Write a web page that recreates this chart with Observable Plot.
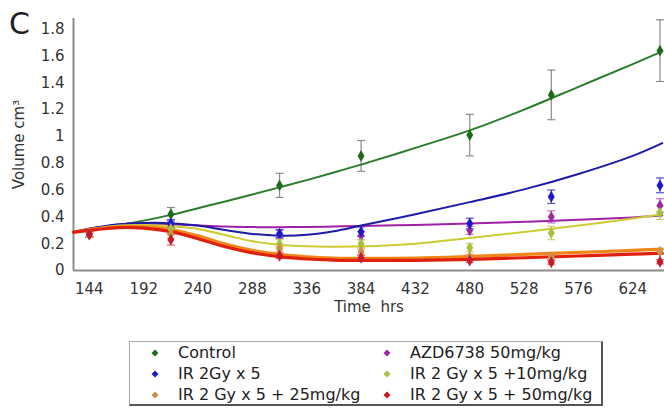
<!DOCTYPE html>
<html><head><meta charset="utf-8">
<script src="https://cdn.jsdelivr.net/npm/d3@7"></script>
<script src="https://cdn.jsdelivr.net/npm/@observablehq/plot@0.6"></script>
<style>
body{margin:0;background:#fff;font-family:"DejaVu Sans",Verdana,sans-serif;}
#wrap{position:relative;width:664px;height:408px;overflow:hidden;background:#fff;}
#panel{position:absolute;left:9px;top:9px;font-size:30px;line-height:30px;color:#222;}
#legend{position:absolute;left:129px;top:341px;width:471px;height:62px;border:1px solid #aaa;border-right:2px solid #555;border-bottom:2px solid #555;box-sizing:content-box;}
.item{position:absolute;font-size:16px;line-height:18px;color:#222;white-space:pre;}
.mk{position:absolute;}
</style></head><body>
<div id="wrap"><div id="chart"></div><div id="panel">C</div><div id="legend"></div></div>
<script>
// ---- data ----
const seriesNames = ["Control", "AZD6738 50mg/kg", "IR 2Gy x 5", "IR 2 Gy x 5 +10mg/kg", "IR 2 Gy x 5 + 25mg/kg", "IR 2 Gy x 5 + 50mg/kg"];
const lineColors   = ["#2b7d2b", "#a020a8", "#1c1ca8", "#cccc30", "#f0861a", "#e0200c"];
const markerColors = ["#1e6b1e", "#9a2aa0", "#1a1acc", "#a8c040", "#c89048", "#c8182e"];
const barColors    = ["#8a8a8a", "#c070c8", "#5050d0", "#d0d070", "#e0b080", "#e06060"];
const lineWidths   = [2, 2, 2, 2, 3.2, 3.2];

// measured time points (hrs)
const times = [144, 216, 312, 384, 480, 552, 648];
const meanControl = [0.27, 0.42, 0.635, 0.855, 1.01, 1.31, 1.64];
const errControl  = [0.02, 0.05, 0.09, 0.115, 0.155, 0.185, 0.23];
const meanAZD     = [0.27, 0.34, 0.27, 0.26, 0.30, 0.40, 0.485];
const errAZD      = [0.02, 0.03, 0.03, 0.03, 0.03, 0.045, 0.05];
const meanIR      = [0.27, 0.35, 0.275, 0.29, 0.35, 0.55, 0.635];
const errIR       = [0.02, 0.03, 0.03, 0.035, 0.04, 0.05, 0.055];
const meanIR10    = [0.27, 0.31, 0.20, 0.20, 0.17, 0.28, 0.43];
const errIR10     = [0.02, 0.03, 0.03, 0.03, 0.03, 0.05, 0.05];
const meanIR25    = [0.27, 0.27, 0.16, 0.14, 0.10, 0.10, 0.14];
const errIR25     = [0.02, 0.03, 0.02, 0.02, 0.02, 0.02, 0.02];
const meanIR50    = [0.27, 0.23, 0.11, 0.095, 0.075, 0.062, 0.065];
const errIR50     = [0.02, 0.04, 0.02, 0.02, 0.015, 0.015, 0.015];

// fitted curves
const curveTimes = [130, 150, 170, 192, 216, 240, 264, 288, 312, 336, 360, 384, 432, 480, 528, 576, 624, 650];
const fitControl = [0.286, 0.31, 0.34, 0.372, 0.415, 0.465, 0.515, 0.567, 0.62, 0.674, 0.731, 0.79, 0.915, 1.045, 1.2, 1.37, 1.54, 1.635];
const fitAZD     = [0.286, 0.32, 0.343, 0.35, 0.345, 0.336, 0.328, 0.324, 0.323, 0.325, 0.328, 0.332, 0.34, 0.35, 0.363, 0.378, 0.396, 0.41];
const fitIR      = [0.286, 0.32, 0.345, 0.355, 0.353, 0.335, 0.302, 0.273, 0.26, 0.266, 0.293, 0.335, 0.42, 0.51, 0.605, 0.72, 0.855, 0.95];
const fitIR10    = [0.286, 0.315, 0.335, 0.34, 0.33, 0.31, 0.265, 0.218, 0.192, 0.18, 0.178, 0.18, 0.20, 0.243, 0.288, 0.335, 0.388, 0.42];
const fitIR25    = [0.286, 0.31, 0.325, 0.325, 0.305, 0.258, 0.197, 0.15, 0.12, 0.102, 0.093, 0.09, 0.093, 0.105, 0.12, 0.135, 0.15, 0.16];
const fitIR50    = [0.286, 0.305, 0.32, 0.316, 0.29, 0.237, 0.177, 0.132, 0.103, 0.086, 0.078, 0.075, 0.076, 0.083, 0.095, 0.108, 0.122, 0.13];

const xTicks = [144, 192, 240, 288, 336, 384, 432, 480, 528, 576, 624];
const yTicks = [0, 0.2, 0.4, 0.6, 0.8, 1, 1.2, 1.4, 1.6, 1.8];
const yTickLabels = ["0", "0.2", "0.4", "0.6", "0.8", "1", "1.2", "1.4", "1.6", "1.8"];
const xLabel = "Time\u00a0\u00a0hrs";
const yLabel = "Volume cm³";
// legend layout order (rows of two)
const legendOrder = [0, 1, 2, 3, 4, 5];

// ---- build tables ----
const means = [meanControl, meanAZD, meanIR, meanIR10, meanIR25, meanIR50];
const errs  = [errControl, errAZD, errIR, errIR10, errIR25, errIR50];
const fits  = [fitControl, fitAZD, fitIR, fitIR10, fitIR25, fitIR50];

const points = [];
means.forEach((m, s) => m.forEach((v, i) => points.push({s, t: times[i], v, lo: v - errs[s][i], hi: v + errs[s][i]})));
const curves = [];
fits.forEach((f, s) => f.forEach((v, i) => curves.push({s, t: curveTimes[i], v})));

const capSymbol = {draw(ctx, size) { const r = Math.sqrt(size / Math.PI); ctx.moveTo(-r, 0); ctx.lineTo(r, 0); }};

const marks = [];
// axis lines
marks.push(Plot.ruleY([0], {stroke: "#8c8c8c", strokeWidth: 2}));
marks.push(Plot.ruleX([130], {stroke: "#8c8c8c", strokeWidth: 2}));
const drawOrder = [0, 1, 2, 3, 4, 5];
// error bars
drawOrder.forEach(s => {
  const d = points.filter(p => p.s === s);
  marks.push(Plot.ruleX(d, {x: "t", y1: "lo", y2: "hi", stroke: barColors[s], strokeWidth: 1.2}));
  marks.push(Plot.dot(d, {x: "t", y: "lo", symbol: capSymbol, r: 4, stroke: barColors[s], strokeWidth: 1.2, fill: "none"}));
  marks.push(Plot.dot(d, {x: "t", y: "hi", symbol: capSymbol, r: 4, stroke: barColors[s], strokeWidth: 1.2, fill: "none"}));
});
// fitted lines
drawOrder.forEach(s => {
  marks.push(Plot.line(curves.filter(c => c.s === s), {x: "t", y: "v", stroke: lineColors[s], strokeWidth: lineWidths[s], curve: "catmull-rom"}));
});
// markers
drawOrder.forEach(s => {
  marks.push(Plot.dot(points.filter(p => p.s === s), {x: "t", y: "v", symbol: "diamond", r: 3.6, fill: markerColors[s], stroke: "none"}));
});
// axis titles
marks.push(Plot.text([xLabel], {frameAnchor: "bottom", dy: 41, fontSize: 15, fill: "#333"}));
marks.push(Plot.text([yLabel], {frameAnchor: "left", textAnchor: "middle", dx: -54, rotate: -90, fontSize: 15, fill: "#333"}));

const chart = Plot.plot({
  width: 664,
  height: 322,
  marginLeft: 73,
  marginRight: 0,
  marginTop: 18,
  marginBottom: 52,
  style: {fontFamily: "DejaVu Sans, Verdana, sans-serif", fontSize: "15px", color: "#333", background: "#fff"},
  x: {domain: [130, 652], ticks: xTicks, tickSize: 0, tickPadding: 13, label: null, tickFormat: d => String(d)},
  y: {domain: [0, 1.88], ticks: yTicks, tickSize: 0, tickPadding: 9, label: null, tickFormat: d => yTickLabels[yTicks.indexOf(d)]},
  marks
});
document.getElementById("chart").appendChild(chart);

// ---- legend ----
const legend = document.getElementById("legend");
const colMarkX = [25, 257], colTextX = [48, 280], rowY = [11, 32, 53];
legendOrder.forEach((s, k) => {
  const col = k % 2, row = Math.floor(k / 2);
  const mk = document.createElementNS("http://www.w3.org/2000/svg", "svg");
  mk.setAttribute("width", 8); mk.setAttribute("height", 8);
  mk.setAttribute("class", "mk");
  mk.style.left = (colMarkX[col] - 4) + "px";
  mk.style.top = (rowY[row] - 4) + "px";
  mk.innerHTML = `<path d="M4,0.5L7.5,4L4,7.5L0.5,4Z" fill="${markerColors[s]}"/>`;
  legend.appendChild(mk);
  const t = document.createElement("div");
  t.className = "item";
  t.textContent = seriesNames[s];
  t.style.left = colTextX[col] + "px";
  t.style.top = (rowY[row] - 9) + "px";
  legend.appendChild(t);
});
</script>
</body></html>
